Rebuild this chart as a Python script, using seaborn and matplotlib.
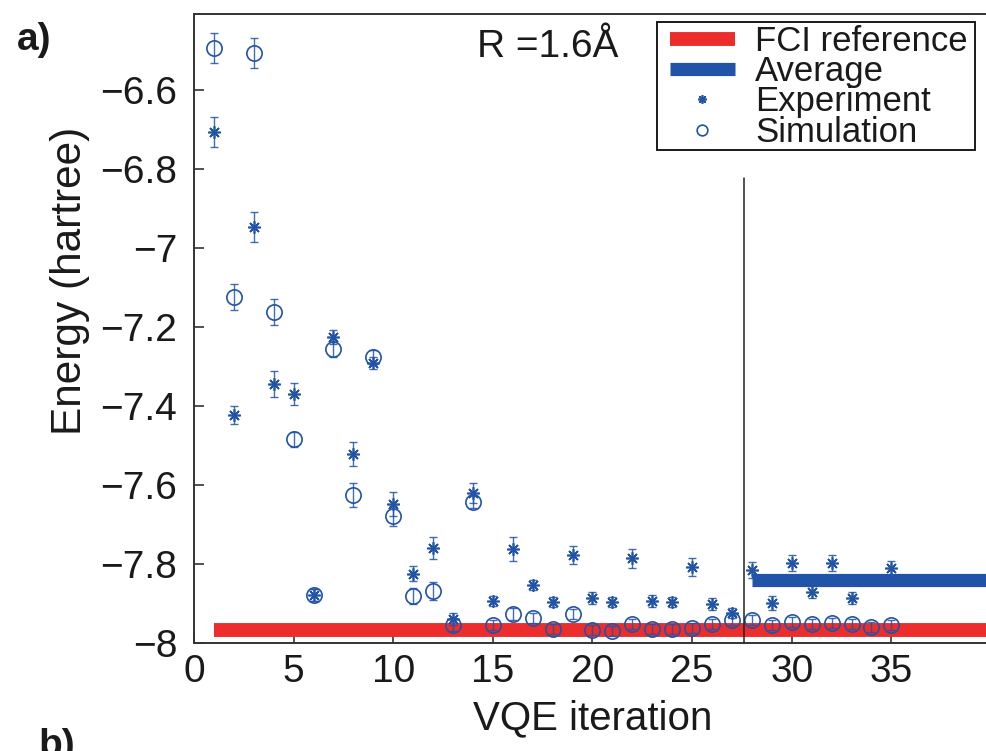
import numpy as np
import pandas as pd
import matplotlib
matplotlib.use("Agg")
import matplotlib.pyplot as plt
import seaborn as sns
from matplotlib.ticker import FixedLocator, FixedFormatter
from matplotlib.patches import Rectangle

# ---------------- data ----------------
iterations = list(range(1, 36))
experiment = [-6.706, -7.423, -6.947, -7.344, -7.370, -7.878, -7.225, -7.522, -7.291, -7.648,
              -7.825, -7.759, -7.940, -7.620, -7.894, -7.762, -7.853, -7.896, -7.777, -7.886,
              -7.896, -7.785, -7.894, -7.896, -7.808, -7.901, -7.924, -7.815, -7.899, -7.797,
              -7.871, -7.797, -7.886, -7.840, -7.810]
experiment_err = [0.038, 0.022, 0.037, 0.032, 0.027, 0.015, 0.017, 0.030, 0.015, 0.030,
                  0.019, 0.028, 0.015, 0.025, 0.013, 0.030, 0.013, 0.013, 0.023, 0.015,
                  0.013, 0.024, 0.015, 0.013, 0.022, 0.015, 0.013, 0.020, 0.018, 0.020,
                  0.015, 0.020, 0.015, 0.013, 0.018]
simulation = [-6.494, -7.124, -6.506, -7.162, -7.484, -7.878, -7.256, -7.625, -7.276, -7.678,
              -7.881, -7.868, -7.955, -7.643, -7.954, -7.927, -7.937, -7.965, -7.927, -7.967,
              -7.969, -7.952, -7.965, -7.965, -7.962, -7.952, -7.942, -7.942, -7.954, -7.947,
              -7.952, -7.949, -7.952, -7.959, -7.954]
simulation_err = [0.038, 0.033, 0.038, 0.034, 0.019, 0.015, 0.019, 0.030, 0.019, 0.025,
                  0.019, 0.023, 0.015, 0.015, 0.013, 0.015, 0.013, 0.013, 0.013, 0.013,
                  0.013, 0.013, 0.013, 0.013, 0.013, 0.013, 0.013, 0.013, 0.013, 0.013,
                  0.013, 0.013, 0.013, 0.013, 0.013]
fci_x = [1, 40]
fci_y = [-7.967, -7.967]
avg_x = [28, 40]
avg_y = [-7.84, -7.84]
divider_x = [27.6, 27.6]
divider_y = [-8.0, -6.823]
xticks = [0, 5, 10, 15, 20, 25, 30, 35]
yticks = [-8, -7.8, -7.6, -7.4, -7.2, -7, -6.8, -6.6]
ytick_labels = ["\u22128", "\u22127.8", "\u22127.6", "\u22127.4", "\u22127.2", "\u22127", "\u22126.8", "\u22126.6"]

# ---------------- style ----------------
sns.set_theme(style="white")
plt.rcParams["font.family"] = ["Liberation Sans", "DejaVu Sans"]

BLUE = "#2153A6"
RED = "#EC2D2B"
SPINE = "#333333"
TXT = "#1a1a1a"

fig = plt.figure(figsize=(9.87, 7.51), dpi=100)
W, H = 987, 751
ax = fig.add_axes([194 / W, (H - 643) / H, 797 / W, 629 / H])

df_fci = pd.DataFrame({"x": fci_x, "y": fci_y})
df_avg = pd.DataFrame({"x": avg_x, "y": avg_y})
df_exp = pd.DataFrame({"x": iterations, "y": experiment, "e": experiment_err})
df_sim = pd.DataFrame({"x": iterations, "y": simulation, "e": simulation_err})

sns.lineplot(data=df_fci, x="x", y="y", ax=ax, color=RED, linewidth=10,
             solid_capstyle="butt", zorder=1, label="FCI reference", estimator=None)

# error bars
ax.errorbar(df_exp["x"], df_exp["y"], yerr=df_exp["e"], fmt="none", ecolor=BLUE,
            elinewidth=1.0, capsize=3, capthick=1.0, zorder=2, alpha=0.85)
ax.errorbar(df_sim["x"], df_sim["y"], yerr=df_sim["e"], fmt="none", ecolor=BLUE,
            elinewidth=1.0, capsize=3, capthick=1.0, zorder=2, alpha=0.85)

sns.lineplot(data=df_avg, x="x", y="y", ax=ax, color=BLUE, linewidth=9.5,
             solid_capstyle="butt", zorder=3, label="Average", estimator=None)

ax.plot(df_exp["x"], df_exp["y"], linestyle="none", marker=(8, 2, 0), markersize=9,
        markeredgewidth=1.2, color=BLUE, zorder=4, label="Experiment")
ax.plot(df_sim["x"], df_sim["y"], linestyle="none", marker="o", markersize=11,
        markerfacecolor="none", markeredgewidth=1.2, markeredgecolor=BLUE, zorder=4,
        label="Simulation")

ax.plot(divider_x, divider_y, color="#222222", linewidth=1.1, zorder=5)

ax.set_xlim(0, 40)
ax.set_ylim(-8.0, -8.0 + 629 / 395)
ax.xaxis.set_major_locator(FixedLocator(xticks))
ax.yaxis.set_major_locator(FixedLocator(yticks))
ax.yaxis.set_major_formatter(FixedFormatter(ytick_labels))
ax.tick_params(axis="both", which="major", direction="in", length=7, width=1.2,
               color=SPINE, labelsize=28, labelcolor=TXT)
ax.tick_params(axis="x", pad=8, bottom=True, top=False)
ax.tick_params(axis="y", pad=12, left=True, right=False)
for s in ax.spines.values():
    s.set_color(SPINE)
    s.set_linewidth(1.4)

ax.set_xlabel("VQE iteration", fontsize=29, color=TXT, labelpad=7)
ax.set_ylabel("Energy (hartree)", fontsize=30.5, color=TXT)
ax.yaxis.set_label_coords((90 - 194) / 797, (643 - 281) / 629)

ax.text(477 / W, (H - 57) / H, "R =1.6\u00c5", transform=fig.transFigure, fontsize=28,
        color=TXT, ha="left", va="baseline")

# legend: content placed without frame, frame drawn as a rectangle behind it
leg = ax.legend(loc="upper right", bbox_to_anchor=(968 / W, (H - 25) / H),
                bbox_transform=fig.transFigure, fontsize=25, frameon=False,
                borderpad=0, labelspacing=-0.08, handlelength=1.85, handletextpad=0.6,
                borderaxespad=0, markerscale=0.7)
for t in leg.get_texts():
    t.set_color(TXT)
leg.set_zorder(10)
ax.add_patch(Rectangle((657 / W, (H - 150) / H), (975 - 657) / W, (150 - 22) / H,
                       transform=fig.transFigure, facecolor="white", clip_on=False,
                       edgecolor=TXT, linewidth=1.4, zorder=6))

fig.text(17 / W, (H - 40) / H, "a)", fontsize=28, fontweight="bold", ha="left",
         va="center", color=TXT)
fig.text(38 / W, (H - 728) / H, "b)", fontsize=28, fontweight="bold", ha="left",
         va="top", color=TXT)

fig.savefig("out.png", dpi=100, facecolor="white")
